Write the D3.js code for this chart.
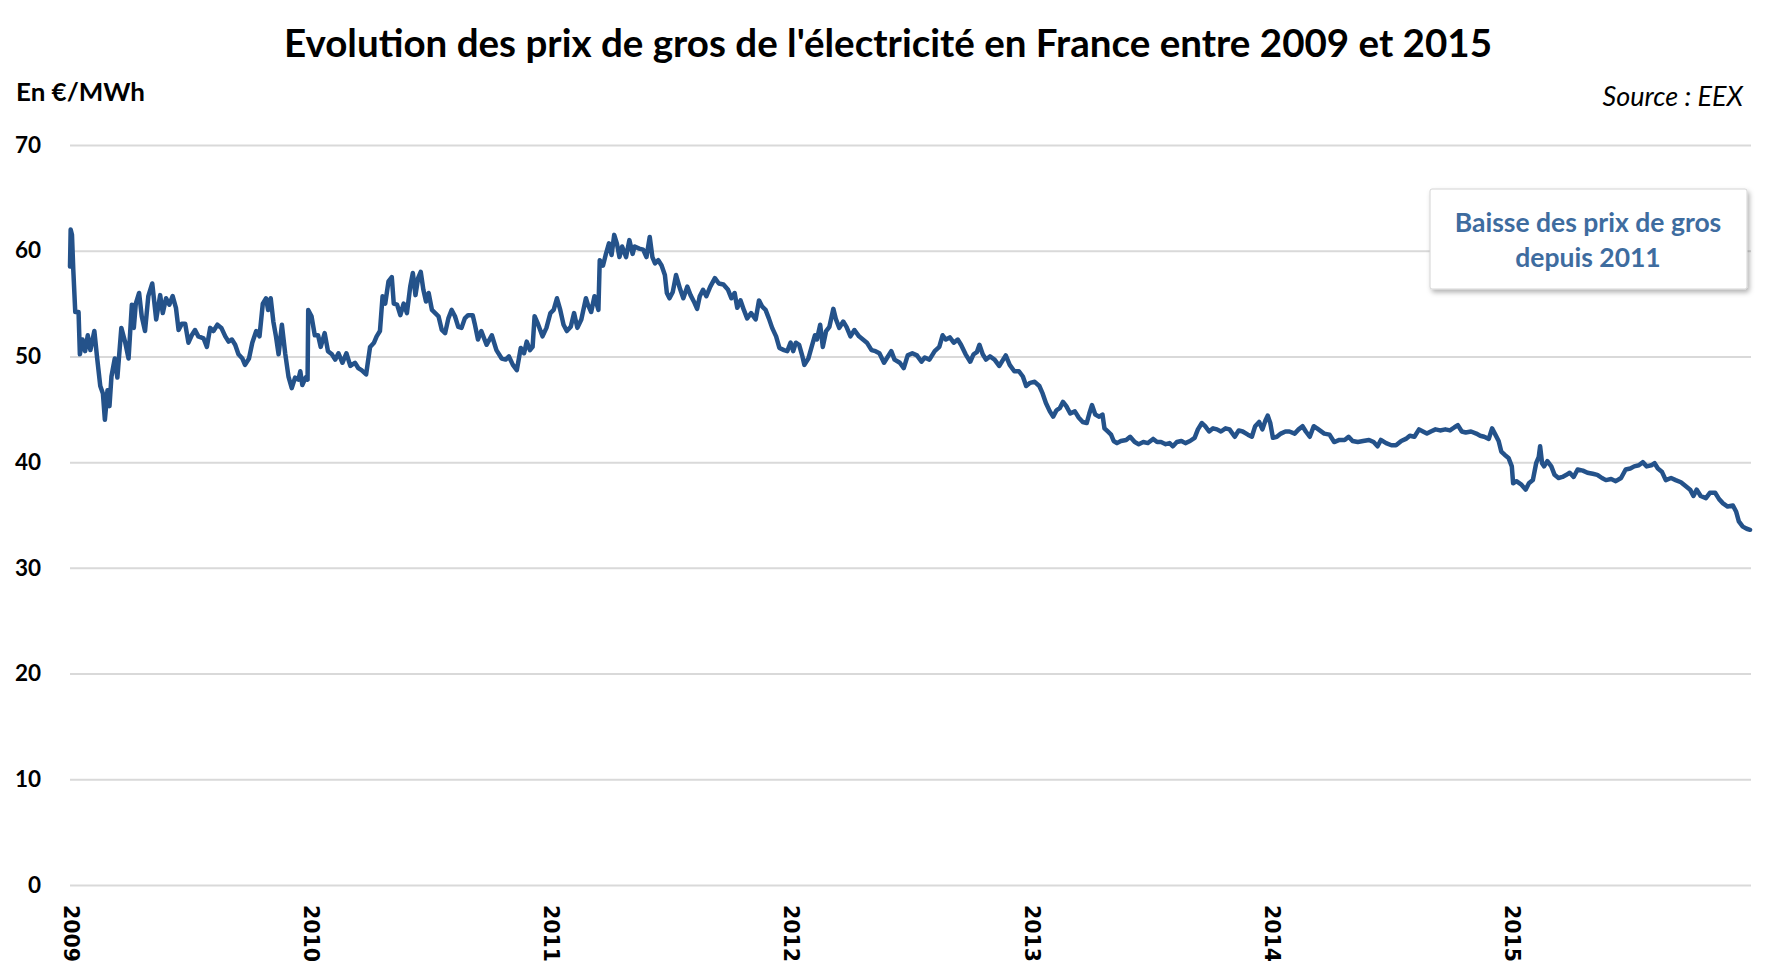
<!DOCTYPE html>
<html>
<head>
<meta charset="utf-8">
<script src="https://cdn.jsdelivr.net/npm/d3@7"></script>
<style>
  html, body { margin: 0; padding: 0; background: #ffffff; }
  svg { display: block; }
</style>
</head>
<body>
<svg id="chart" width="1775" height="968"></svg>
<script>
// ---- Data ----
// days elapsed since 2009-01-01
const dayIndex = [
0,1,3,5,8,13,15,19,23,27,31,37,41,46,50,53,57,60,63,68,72,78,84,89,94,97,100,105,109,114,119,125,131,137,141,146,151,156,161,165,170,175,180,185,190,195,203,208,213,218,224,230,236,241,246,251,256,262,266,272,277,283,288,293,298,301,305,309,313,317,322,327,332,337,342,347,350,353,358,361,362,367,372,377,381,387,392,398,403,408,414,420,426,433,438,443,450,456,462,466,471,475,479,484,489,492,497,502,507,512,517,521,525,529,533,537,541,545,550,555,560,565,570,575,580,585,590,595,600,605,612,615,620,
625,633,641,648,656,662,667,673,679,685,690,694,699,703,706,711,718,724,730,735,740,745,750,755,761,766,771,777,784,787,792,797,803,805,810,814,819,823,827,831,835,839,845,850,855,858,865,871,876,881,885,889,894,899,904,907,911,916,921,927,932,938,943,948,953,957,962,967,973,980,986,993,1000,1005,1010,1014,1019,1024,1029,1035,1042,1047,1052,1057,1062,1067,1073,1078,1085,1090,1095,1099,1103,1108,1113,1116,1122,1127,1132,1135,1140,1144,1149,1154,1160,1164,1169,1175,1180,1186,1192,1199,1205,1211,1218,1224,1230,1237,1241,1248,1253,
1261,1267,1273,1280,1287,1294,1299,1306,1314,1321,1326,1331,1337,1343,1349,1354,1361,1368,1373,1378,1382,1387,1392,1398,1405,1412,1418,1422,1428,1435,1442,1448,1453,1459,1466,1473,1478,1483,1489,1494,1499,1504,1509,1514,1520,1527,1533,1539,1545,1549,1553,1558,1564,1569,1572,1577,1582,1586,1591,1597,1605,1611,1618,1624,1631,1638,1646,1652,1658,1665,1671,1676,1682,1689,1695,1702,1709,1714,1720,1725,1731,1737,1743,1749,1756,1762,1770,1776,1782,1790,1796,1801,1807,1812,1817,1820,1824,1828,1834,1840,1847,1853,1861,1867,1873,1878,1884,1890,1895,
1906,1914,1921,1929,1937,1943,1949,1957,1965,1974,1981,1987,1992,2000,2008,2015,2023,2030,2036,2043,2050,2056,2062,2068,2075,2082,2090,2097,2104,2109,2115,2121,2129,2137,2143,2149,2156,2161,2166,2171,2175,2180,2186,2191,2193,2198,2205,2212,2217,2223,2228,2232,2234,2237,2240,2245,2251,2256,2262,2268,2274,2279,2285,2291,2299,2306,2314,2321,2328,2334,2342,2349,2357,2364,2371,2377,2384,2390,2396,2403,2408,2413,2419,2425,2433,2440,2448,2456,2462,2467,2472,2478,2486,2492,2500,2506,2512,2519,2527,2532,2536,2542,2548,2553
];
// wholesale price, EUR/MWh
const priceValues = [
58.5,62.0,61.5,58.2,54.2,54.2,50.2,51.6,50.5,52.0,50.6,52.4,50.0,47.2,46.5,44.0,46.8,45.3,48.1,49.8,48.0,52.7,51.3,49.8,54.9,52.7,55.0,56.0,53.8,52.4,55.7,56.9,53.5,55.8,54.1,55.5,54.9,55.7,54.6,52.5,53.1,53.1,51.3,52.0,52.5,51.9,51.7,50.9,52.7,52.4,53.0,52.7,51.9,51.4,51.6,51.1,50.2,49.8,49.2,49.8,51.3,52.4,51.9,55.0,55.5,54.4,55.5,53.3,51.9,50.2,53.0,50.3,48.1,47.0,48.0,47.8,48.6,47.3,48.0,47.8,54.4,53.8,52.0,52.0,50.9,52.2,50.5,50.2,49.7,50.3,49.4,50.3,49.1,49.4,48.9,48.7,48.3,50.9,51.3,51.9,52.4,55.7,55.0,57.1,57.5,55.0,54.9,53.9,55.0,54.1,56.6,57.9,55.8,57.4,58.0,56.3,55.2,56.0,54.4,54.1,53.8,52.5,52.2,53.6,54.4,53.8,52.8,52.7,53.6,53.9,53.9,53.1,51.6,
52.4,51.1,52.0,50.6,49.8,49.7,50.0,49.2,48.7,50.8,50.3,51.4,50.6,50.9,53.8,53.1,51.9,52.7,54.1,54.4,55.5,54.4,53.0,52.4,52.8,54.1,52.7,53.5,55.5,54.9,54.2,55.7,54.4,59.1,58.6,59.6,60.7,59.6,61.5,60.7,59.4,60.4,59.4,61.0,59.7,60.4,60.2,60.1,59.4,61.3,59.4,58.8,59.1,58.6,57.7,56.0,55.5,56.1,57.7,56.4,55.5,56.6,55.8,55.2,54.5,55.7,56.3,55.7,56.6,57.4,56.9,56.8,56.3,55.5,56.0,54.6,55.3,54.4,53.6,54.1,53.5,55.3,54.7,54.4,53.6,52.7,51.9,50.8,50.6,50.5,51.3,50.5,51.3,51.1,50.0,49.2,49.8,50.9,52.0,51.6,53.0,50.9,52.4,52.8,54.5,53.5,52.7,53.3,52.8,51.9,52.5,51.9,51.6,51.3,50.6,50.5,50.3,49.4,49.8,50.5,49.7,
49.4,48.9,50.1,50.3,50.1,49.5,49.9,49.7,50.5,50.9,52.0,51.6,51.8,51.3,51.6,51.1,50.2,49.5,50.2,50.4,51.1,50.2,49.7,50.0,49.7,49.1,49.7,50.1,49.2,48.6,48.6,48.1,47.2,47.5,47.6,47.2,46.5,45.6,44.8,44.3,44.9,45.1,45.7,45.3,44.6,44.8,44.2,43.8,43.7,44.6,45.4,44.5,44.3,44.5,43.2,42.9,42.6,42.0,41.8,42.0,42.1,42.4,41.9,41.7,41.9,41.8,42.2,41.9,41.9,41.7,41.8,41.5,41.9,42.0,41.8,42.0,42.3,43.1,43.7,43.4,42.9,43.2,43.1,42.9,43.2,43.1,42.4,43.0,42.9,42.6,42.4,43.4,43.8,43.1,44.0,44.4,43.7,42.3,42.4,42.7,42.9,42.9,42.7,43.1,43.4,42.9,42.4,43.4,43.2,
42.7,42.6,41.9,42.1,42.1,42.4,42.0,41.9,42.0,42.1,41.9,41.5,42.1,41.8,41.6,41.6,42.0,42.2,42.5,42.4,43.1,42.9,42.7,42.9,43.1,43.0,43.1,43.0,43.3,43.5,42.9,42.8,42.9,42.7,42.5,42.4,42.2,43.2,42.6,42.0,41.0,40.7,40.4,39.6,38.0,38.2,37.9,37.4,38.0,38.3,39.9,40.5,41.5,39.9,39.6,40.1,39.6,38.8,38.5,38.6,38.8,39.0,38.6,39.3,39.2,39.0,38.9,38.8,38.5,38.3,38.4,38.2,38.5,39.3,39.4,39.6,39.7,40.0,39.6,39.7,39.9,39.4,39.1,38.3,38.5,38.3,38.1,37.7,37.4,36.8,37.4,36.8,36.6,37.1,37.1,36.5,36.1,35.8,35.9,35.3,34.4,33.9,33.7,33.6
];
const yTickValues = [0, 10, 20, 30, 40, 50, 60, 70];
const yearTicks = ["2009", "2010", "2011", "2012", "2013", "2014", "2015"];
const titleText = "Evolution des prix de gros de l'électricité en France entre 2009 et 2015";
const unitText = "En €/MWh";
const sourceText = "Source : EEX";
const noteLines = ["Baisse des prix de gros", "depuis 2011"];

// ---- Chart ----
(function () {
const svg = d3.select("#chart");
const plotLeft = 70, plotRight = 1752, plotTop = 145, plotBottom = 885;
const start = new Date(2009, 0, 1);
const series = dayIndex.map((d, i) => ({ date: d3.timeDay.offset(start, d), value: priceValues[i] }));

const x = d3.scaleTime().domain([start, new Date(2016, 0, 1)]).range([plotLeft, plotRight]);
const y = d3.scaleLinear().domain([0, 70]).range([plotBottom, plotTop]);

// gridlines + y labels
const yAxis = d3.axisLeft(y).tickValues(yTickValues).tickFormat(d3.format("d"))
  .tickSizeInner(-(1751 - plotLeft)).tickSizeOuter(0).tickPadding(29);
const gy = svg.append("g").attr("transform", `translate(${plotLeft},0)`).call(yAxis);
gy.select(".domain").remove();
gy.selectAll(".tick line").attr("stroke", "#d9d9d9").attr("stroke-width", 2);
gy.selectAll(".tick text")
  .attr("font-family", "Lato, 'Open Sans', sans-serif")
  .attr("font-weight", 700).attr("font-size", 22.5).attr("fill", "#000");

// x labels
const years = yearTicks.map(s => new Date(+s, 0, 1));
const xAxis = d3.axisBottom(x).tickValues(years).tickFormat(d3.timeFormat("%Y")).tickSize(0);
const gx = svg.append("g").attr("transform", "translate(0,905)").call(xAxis);
gx.select(".domain").remove();
gx.selectAll(".tick text")
  .attr("x", 0).attr("y", 0).attr("dy", null)
  .attr("transform", "rotate(90)")
  .attr("text-anchor", "start")
  .attr("dominant-baseline", "central")
  .attr("font-family", "'DejaVu Sans', Verdana, sans-serif")
  .attr("font-weight", 700).attr("font-size", 20.5).attr("fill", "#000");

// line
const line = d3.line().x(d => x(d.date)).y(d => y(d.value)).curve(d3.curveLinear);
svg.append("path").datum(series)
  .attr("d", line)
  .attr("fill", "none")
  .attr("stroke", "#24528a")
  .attr("stroke-width", 4.5)
  .attr("stroke-linejoin", "round")
  .attr("stroke-linecap", "round");

// title
svg.append("text")
  .attr("x", 888).attr("y", 57)
  .attr("text-anchor", "middle")
  .attr("font-family", "Lato, 'Open Sans', sans-serif")
  .attr("font-weight", 700).attr("font-size", 39).attr("fill", "#000")
  .attr("textLength", 1208).attr("lengthAdjust", "spacingAndGlyphs")
  .text(titleText);

// unit
svg.append("text")
  .attr("x", 16).attr("y", 101)
  .attr("font-family", "Lato, 'Open Sans', sans-serif")
  .attr("font-weight", 700).attr("font-size", 25).attr("fill", "#000")
  .attr("textLength", 129).attr("lengthAdjust", "spacingAndGlyphs")
  .text(unitText);

// source
svg.append("text")
  .attr("x", 1743).attr("y", 106)
  .attr("text-anchor", "end")
  .attr("font-family", "Lato, 'Open Sans', sans-serif")
  .attr("font-style", "italic").attr("font-size", 27).attr("fill", "#000")
  .text(sourceText);

// annotation box
const defs = svg.append("defs");
const f = defs.append("filter").attr("id", "shadow").attr("x", "-10%").attr("y", "-10%").attr("width", "130%").attr("height", "140%");
f.append("feDropShadow").attr("dx", 2).attr("dy", 3).attr("stdDeviation", 2.5)
  .attr("flood-color", "#000").attr("flood-opacity", 0.3);
svg.append("rect")
  .attr("x", 1430).attr("y", 189).attr("width", 317).attr("height", 100)
  .attr("rx", 2)
  .attr("fill", "#fff").attr("stroke", "#d4d4d4").attr("stroke-width", 1)
  .attr("filter", "url(#shadow)");
svg.append("g").selectAll("text").data(noteLines).join("text")
  .attr("x", 1588).attr("y", (d, i) => 232 + i * 35)
  .attr("text-anchor", "middle")
  .attr("font-family", "Lato, 'Open Sans', sans-serif")
  .attr("font-weight", 700).attr("font-size", 26.5).attr("fill", "#3e6c9f")
  .text(d => d);
})();
</script>
</body>
</html>
